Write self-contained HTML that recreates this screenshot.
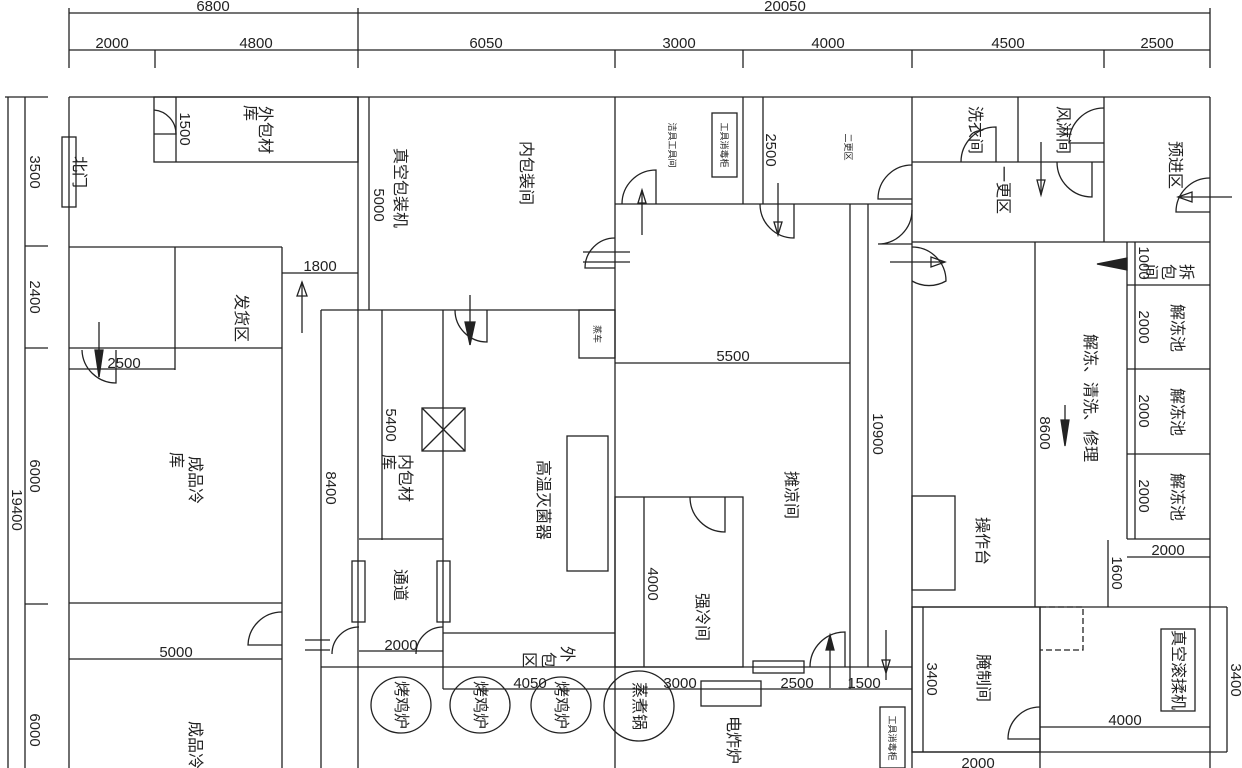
<!DOCTYPE html>
<html><head><meta charset="utf-8"><style>
html,body{margin:0;padding:0;background:#fff;}
svg{display:block;}
text{font-family:"Liberation Sans","Noto Sans CJK SC",sans-serif;fill:#222;}
.d{font-size:15px;}
.c{font-size:16px;fill:#444;}
</style></head><body>
<svg width="1242" height="768" viewBox="0 0 1242 768" xmlns="http://www.w3.org/2000/svg">
<g stroke="#222" stroke-width="1.3" fill="none">
<line x1="69" y1="13" x2="1210" y2="13"/>
<line x1="69" y1="50" x2="1210" y2="50"/>
<line x1="69" y1="8" x2="69" y2="68"/><line x1="358" y1="8" x2="358" y2="68"/><line x1="1210" y1="8" x2="1210" y2="68"/>
<line x1="155" y1="50" x2="155" y2="68"/><line x1="615" y1="50" x2="615" y2="68"/><line x1="743" y1="50" x2="743" y2="68"/><line x1="912" y1="50" x2="912" y2="68"/><line x1="1104" y1="50" x2="1104" y2="68"/>
<line x1="8" y1="97" x2="8" y2="768"/><line x1="25" y1="97" x2="25" y2="768"/>
<line x1="5" y1="97" x2="48" y2="97"/>
<line x1="25" y1="246" x2="48" y2="246"/><line x1="25" y1="348" x2="48" y2="348"/><line x1="25" y1="604" x2="48" y2="604"/>
<line x1="69" y1="97" x2="1210" y2="97"/>
<line x1="69" y1="97" x2="69" y2="768"/>
<line x1="1210" y1="97" x2="1210" y2="768"/>
<rect x="154" y="97" width="204" height="65"/>
<path d="M154,110 A 24 24 0 0 1 176 134 L154 134"/>
<line x1="176" y1="97" x2="176" y2="162"/>
<rect x="62" y="137" width="14" height="70"/>
<line x1="358" y1="97" x2="358" y2="768"/>
<line x1="369" y1="97" x2="369" y2="310"/>
<line x1="69" y1="247" x2="282" y2="247"/>
<line x1="175" y1="247" x2="175" y2="370"/>
<line x1="69" y1="348" x2="282" y2="348"/>
<line x1="282" y1="247" x2="282" y2="768"/>
<line x1="282" y1="273" x2="358" y2="273"/>
<line x1="302" y1="282" x2="302" y2="333"/><path d="M297,296 L302,282 L307,296 Z"/>
<line x1="69" y1="369" x2="175" y2="369"/>
<path d="M82,350 A 34 34 0 0 0 116 383 L116 350"/>
<line x1="99" y1="322" x2="99" y2="377"/><path d="M95,350 L99,377 L103,350 Z" fill="#222"/>
<line x1="69" y1="603" x2="282" y2="603"/>
<line x1="69" y1="659" x2="282" y2="659"/>
<path d="M282,612 A 34 34 0 0 0 248 645 L282 645"/>
<line x1="321" y1="310" x2="615" y2="310"/>
<line x1="321" y1="310" x2="321" y2="768"/>
<line x1="382" y1="310" x2="382" y2="540"/>
<line x1="443" y1="310" x2="443" y2="689"/>
<line x1="359" y1="539" x2="443" y2="539"/>
<rect x="579" y="310" width="36" height="48"/>
<rect x="422" y="408" width="43" height="43"/><line x1="422" y1="408" x2="465" y2="451"/><line x1="465" y1="408" x2="422" y2="451"/>
<rect x="567" y="436" width="41" height="135"/>
<rect x="352" y="561" width="13" height="61"/><rect x="437" y="561" width="13" height="61"/>
<line x1="443" y1="633" x2="615" y2="633"/>
<line x1="321" y1="667" x2="912" y2="667"/>
<line x1="443" y1="689" x2="912" y2="689"/>
<line x1="359" y1="651" x2="443" y2="651"/>
<path d="M359,627 A 27 27 0 0 0 332 654"/><path d="M443,627 A 27 27 0 0 0 416 654"/>
<path d="M305,640 L330,640 M305,650 L330,650"/>
<path d="M455,310 A 32 32 0 0 0 487 342 L487 310"/>
<line x1="470" y1="295" x2="470" y2="345"/><path d="M465,322 L470,345 L475,322 Z" fill="#222"/>
<ellipse cx="401" cy="705" rx="30" ry="28"/><ellipse cx="480" cy="705" rx="30" ry="28"/><ellipse cx="561" cy="705" rx="30" ry="28"/>
<line x1="615" y1="97" x2="615" y2="768"/>
<line x1="743" y1="97" x2="743" y2="204"/>
<line x1="615" y1="204" x2="912" y2="204"/>
<rect x="712" y="113" width="25" height="64"/>
<line x1="763" y1="97" x2="763" y2="204"/>
<path d="M622,204 A 34 34 0 0 1 656 170 L656 204"/>
<line x1="642" y1="190" x2="642" y2="235"/><path d="M638,203 L642,190 L646,203 Z"/>
<path d="M760,204 A 34 34 0 0 0 794 238 L794 204"/>
<line x1="778" y1="183" x2="778" y2="235"/><path d="M774,222 L778,235 L782,222 Z"/>
<path d="M615,238 A 30 30 0 0 0 585 268 L615 268"/>
<path d="M583,252 L615,252 M583,262 L615,262 M630,252 L615,252 M630,262 L615,262"/>
<line x1="615" y1="363" x2="850" y2="363"/>
<line x1="850" y1="204" x2="850" y2="689"/>
<line x1="868" y1="204" x2="868" y2="667"/>
<rect x="615" y="497" width="128" height="170"/>
<path d="M690,497 A 35 35 0 0 0 725 532 L725 497"/>
<line x1="644" y1="497" x2="644" y2="667"/>
<rect x="701" y="681" width="60" height="25"/>
<ellipse cx="639" cy="706" rx="35" ry="35"/>
<rect x="753" y="661" width="51" height="12"/>
<path d="M810,667 A 35 35 0 0 1 845 632 L845 667"/>
<line x1="830" y1="635" x2="830" y2="688"/><path d="M826,650 L830,635 L834,650 Z" fill="#222"/>
<line x1="886" y1="630" x2="886" y2="680"/><path d="M882,660 L886,673 L890,660 Z"/>
<rect x="880" y="707" width="25" height="61"/>
<path d="M912,165 A 34 34 0 0 0 878 199 L912 199"/>
<path d="M912,210 A 34 34 0 0 1 878 244 L912 244"/>
<line x1="912" y1="97" x2="912" y2="768"/>
<line x1="912" y1="162" x2="1104" y2="162"/>
<line x1="1018" y1="97" x2="1018" y2="162"/>
<line x1="1104" y1="97" x2="1104" y2="242"/>
<line x1="912" y1="242" x2="1210" y2="242"/>
<path d="M996,162 L996,127 A 35 35 0 0 0 961 162"/>
<path d="M1104,108 A 35 35 0 0 0 1069 143 L1104 143"/>
<path d="M1057,162 A 35 35 0 0 0 1092 197 L1092 162"/>
<line x1="1041" y1="142" x2="1041" y2="195"/><path d="M1037,180 L1041,195 L1045,180 Z"/>
<path d="M1210,178 A 34 34 0 0 0 1176 212 L1210 212"/>
<line x1="1178" y1="197" x2="1232" y2="197"/><path d="M1178,197 L1192,192 L1192,202 Z"/>
<path d="M912,247 A 34 34 0 0 1 946 281 A 34 34 0 0 1 912 281"/>
<line x1="890" y1="262" x2="945" y2="262"/><path d="M945,262 L931,257 L931,267 Z"/>
<line x1="1035" y1="242" x2="1035" y2="607"/>
<line x1="1127" y1="242" x2="1127" y2="539"/>
<line x1="1135" y1="242" x2="1135" y2="539"/>
<line x1="1127" y1="285" x2="1210" y2="285"/><line x1="1127" y1="369" x2="1210" y2="369"/><line x1="1127" y1="454" x2="1210" y2="454"/><line x1="1127" y1="539" x2="1210" y2="539"/>
<line x1="1127" y1="557" x2="1210" y2="557"/><line x1="1108" y1="540" x2="1108" y2="607"/>
<line x1="1065" y1="405" x2="1065" y2="420"/><path d="M1061,420 L1065,446 L1069,420 Z" fill="#222"/>
<path d="M1097,264 L1127,258 L1127,270 Z" fill="#222"/>
<rect x="912" y="496" width="43" height="94"/>
<line x1="912" y1="607" x2="1227" y2="607"/>
<line x1="1227" y1="607" x2="1227" y2="752"/>
<rect x="912" y="607" width="128" height="145"/>
<line x1="923" y1="607" x2="923" y2="752"/>
<line x1="1040" y1="607" x2="1040" y2="768"/>
<path d="M1040,607 L1083,607 L1083,650 L1040,650" stroke-dasharray="6,3"/>
<rect x="1161" y="629" width="34" height="82"/>
<line x1="1040" y1="727" x2="1210" y2="727"/>
<path d="M1040,707 A 32 32 0 0 0 1008 739 L1040 739"/>
<line x1="912" y1="752" x2="1227" y2="752"/>
</g>
<g class="d" text-anchor="middle">
<text x="213" y="11">6800</text><text x="785" y="11">20050</text>
<text x="112" y="48">2000</text><text x="256" y="48">4800</text><text x="486" y="48">6050</text><text x="679" y="48">3000</text><text x="828" y="48">4000</text><text x="1008" y="48">4500</text><text x="1157" y="48">2500</text>
<text x="320" y="271">1800</text><text x="124" y="368">2500</text><text x="733" y="361">5500</text>
<text x="176" y="657">5000</text><text x="401" y="650">2000</text><text x="530" y="688">4050</text>
<text x="680" y="688">3000</text><text x="797" y="688">2500</text><text x="864" y="688">1500</text>
<text x="1168" y="555">2000</text><text x="1125" y="725">4000</text><text x="978" y="768">2000</text>
</g>
<g class="d" text-anchor="middle">
<text transform="translate(30,172) rotate(90)">3500</text>
<text transform="translate(30,297) rotate(90)">2400</text>
<text transform="translate(30,476) rotate(90)">6000</text>
<text transform="translate(12,510) rotate(90)">19400</text>
<text transform="translate(30,730) rotate(90)">6000</text>
<text transform="translate(180,129) rotate(90)">1500</text>
<text transform="translate(374,205) rotate(90)">5000</text>
<text transform="translate(386,425) rotate(90)">5400</text>
<text transform="translate(326,488) rotate(90)">8400</text>
<text transform="translate(766,150) rotate(90)">2500</text>
<text transform="translate(873,434) rotate(90)">10900</text>
<text transform="translate(648,584) rotate(90)">4000</text>
<text transform="translate(1040,433) rotate(90)">8600</text>
<text transform="translate(1139,263) rotate(90)">1000</text>
<text transform="translate(1139,327) rotate(90)">2000</text>
<text transform="translate(1139,411) rotate(90)">2000</text>
<text transform="translate(1139,496) rotate(90)">2000</text>
<text transform="translate(1112,573) rotate(90)">1600</text>
<text transform="translate(927,679) rotate(90)">3400</text>
<text transform="translate(1231,680) rotate(90)">3400</text>
</g>
<g class="c" text-anchor="middle">
<text transform="translate(260,130) rotate(90)">外包材</text><text transform="translate(245,113) rotate(90)">库</text>
<text transform="translate(74,172) rotate(90)">北门</text>
<text transform="translate(236,318) rotate(90)">发货区</text>
<text transform="translate(395,188) rotate(90)">真空包装机</text>
<text transform="translate(521,173) rotate(90)">内包装间</text>
<text transform="translate(190,480) rotate(90)">成品冷</text><text transform="translate(171,460) rotate(90)">库</text>
<text transform="translate(190,745) rotate(90)">成品冷</text>
<text transform="translate(400,478) rotate(90)">内包材</text><text transform="translate(383,462) rotate(90)">库</text>
<text transform="translate(538,500) rotate(90)">高温灭菌器</text>
<text transform="translate(395,585) rotate(90)">通道</text>
<text transform="translate(562,654) rotate(90)">外</text><text transform="translate(543,660) rotate(90)">包</text><text transform="translate(524,660) rotate(90)">区</text>
<text transform="translate(396,705) rotate(90)">烤鸡炉</text><text transform="translate(475,705) rotate(90)">烤鸡炉</text><text transform="translate(556,705) rotate(90)">烤鸡炉</text>
<text transform="translate(634,706) rotate(90)">蒸煮锅</text>
<text transform="translate(728,740) rotate(90)">电炸炉</text>
<text transform="translate(697,617) rotate(90)">强冷间</text>
<text transform="translate(786,495) rotate(90)">摊凉间</text>
<text transform="translate(970,130) rotate(90)">洗衣间</text>
<text transform="translate(1058,130) rotate(90)">风淋间</text>
<text transform="translate(998,190) rotate(90)">一更区</text>
<text transform="translate(1170,165) rotate(90)">预进区</text>
<text transform="translate(1181,272) rotate(90)">拆</text><text transform="translate(1163,272) rotate(90)">包</text><text transform="translate(1145,272) rotate(90)">间</text>
<text transform="translate(1172,328) rotate(90)">解冻池</text><text transform="translate(1172,412) rotate(90)">解冻池</text><text transform="translate(1172,497) rotate(90)">解冻池</text>
<text transform="translate(1085,398) rotate(90)">解冻、清洗、修理</text>
<text transform="translate(977,541) rotate(90)">操作台</text>
<text transform="translate(978,678) rotate(90)">腌制间</text>
<text transform="translate(1173,670) rotate(90)">真空滚揉机</text>
</g>
<g text-anchor="middle" style="font-size:9px">
<text transform="translate(669,145) rotate(90)">洁具工具间</text>
<text transform="translate(721,145) rotate(90)">工具消毒柜</text>
<text transform="translate(845,147) rotate(90)">二更区</text>
<text transform="translate(594,334) rotate(90)">蒸车</text>
<text transform="translate(889,738) rotate(90)">工具消毒柜</text>
</g>
</svg>
</body></html>
